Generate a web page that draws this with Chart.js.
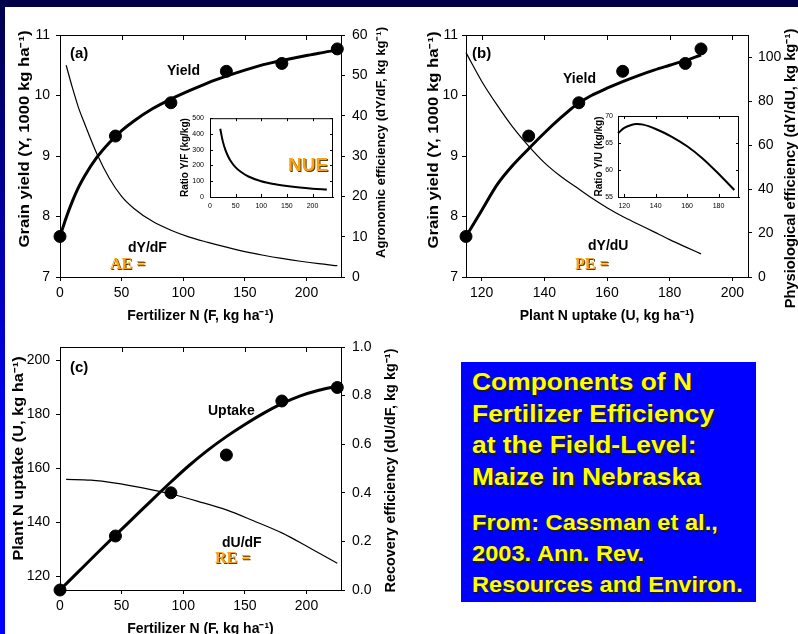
<!DOCTYPE html>
<html>
<head>
<meta charset="utf-8">
<script src="https://cdn.jsdelivr.net/npm/chart.js@4.4.1/dist/chart.umd.min.js"></script>
<style>
  html, body { margin: 0; padding: 0; }
  body { width: 798px; height: 634px; overflow: hidden; position: relative; background: #fff;
         font-family: 'Liberation Sans', Arial, sans-serif; }
  canvas { position: absolute; }
  .bar { position: absolute; left: 0; top: 0; width: 798px; height: 7px; background: #00004a; }
  .strip { position: absolute; left: 0; top: 0; width: 5px; height: 634px;
           background: linear-gradient(#00004a, #0000ff 70%); }
  .lbl { position: absolute; font-weight: bold; font-size: 14px; line-height: 1; color: #000; white-space: nowrap; }
  .orange { color: #f5a31a; text-shadow: 1px 1px 0 #5a3c00; }
  .serif { font-family: 'Liberation Serif', 'Times New Roman', serif; font-size: 16px; }
  .box { position: absolute; left: 461px; top: 362px; width: 295px; height: 240px; background: #0000ff; }
  .box div { position: absolute; left: 11px; color: #ffff00; font-weight: bold; white-space: nowrap;
             text-shadow: 2px 2px 0 #1a1a1a; transform: scaleX(1.1); transform-origin: left top; }
</style>
</head>
<body>
<div class="bar"></div>
<div class="strip"></div>

<canvas id="chartA" width="400" height="340" style="left:0;top:0"></canvas>
<canvas id="insetA" width="175" height="108" style="left:165px;top:108px"></canvas>
<canvas id="chartB" width="410" height="340" style="left:400px;top:0"></canvas>
<canvas id="insetB" width="176" height="110" style="left:570px;top:106px"></canvas>
<canvas id="chartC" width="400" height="320" style="left:0;top:330px"></canvas>

<div class="lbl" style="left:70px;top:45px;font-size:15px">(a)</div>
<div class="lbl" style="left:167px;top:63px">Yield</div>
<div class="lbl" style="left:128px;top:240px">dY/dF</div>
<div class="lbl orange serif" style="left:110px;top:256px">AE =</div>
<div class="lbl orange" style="left:288px;top:155px;font-size:19px">NUE</div>

<div class="lbl" style="left:472px;top:45px;font-size:15px">(b)</div>
<div class="lbl" style="left:563px;top:71px">Yield</div>
<div class="lbl" style="left:588px;top:238px">dY/dU</div>
<div class="lbl orange serif" style="left:575px;top:256px">PE =</div>

<div class="lbl" style="left:70px;top:359px;font-size:15px">(c)</div>
<div class="lbl" style="left:208px;top:403px">Uptake</div>
<div class="lbl" style="left:222px;top:535px">dU/dF</div>
<div class="lbl orange serif" style="left:215px;top:550px">RE =</div>

<div class="box">
  <div style="top:4px;font-size:24px;line-height:31.7px">Components of N<br>Fertilizer Efficiency<br>at the Field-Level:<br>Maize in Nebraska</div>
  <div style="top:146px;font-size:21.5px;line-height:31px">From: Cassman et al.,<br>2003. Ann. Rev.<br>Resources and Environ.</div>
</div>

<script>
const fertN = [0, 45, 90, 135, 180, 225];
const grainYield = [7.67, 9.33, 9.88, 10.40, 10.53, 10.77];
const plantUptake = [115, 135, 151, 165, 185, 190];

// (a) fitted yield response and its derivative
const yieldFitF = [0, 5, 10, 15, 20, 30, 40, 50, 60, 75, 90, 105, 120, 135, 150, 165, 180, 195, 210, 225];
const yieldFitY = [7.67, 7.98, 8.25, 8.48, 8.67, 8.98, 9.22, 9.42, 9.58, 9.78, 9.94, 10.08, 10.21, 10.32, 10.42, 10.51, 10.58, 10.64, 10.70, 10.75];
const aeF = [5, 10, 15, 20, 30, 40, 50, 60, 75, 90, 105, 120, 135, 150, 165, 180, 195, 210, 225];
const aeVal = [52.5, 47, 42, 38, 30.5, 24.5, 20, 17, 13.8, 11.6, 9.9, 8.6, 7.4, 6.3, 5.4, 4.6, 3.9, 3.3, 2.8];
// inset (a): ratio Y/F
const nueF = [20, 25, 30, 35, 40, 50, 60, 75, 100, 125, 150, 175, 200, 228];
const nueVal = [433, 353, 299, 260, 230, 188, 160, 130, 100, 82, 69.5, 60, 53, 47];

// (b) yield vs plant N uptake
const yieldFitU = [115, 120, 125, 130, 135, 140, 145, 150, 155, 160, 165, 170, 175, 180, 185, 190];
const yieldFitYU = [7.67, 8.1, 8.53, 8.85, 9.12, 9.38, 9.62, 9.84, 10.0, 10.12, 10.23, 10.33, 10.42, 10.5, 10.58, 10.67];
const peVal = [102, 89, 78, 68, 59.5, 52, 46, 41, 36, 31.5, 27.5, 24, 20.5, 17, 13.7, 10.5];
// inset (b): ratio Y/U
const yuU = [116, 120, 124, 128, 132, 140, 150, 160, 170, 180, 190];
const yuVal = [66.8, 67.8, 68.3, 68.5, 68.4, 67.6, 66.2, 64.4, 62.1, 59.3, 56.3];

// (c) uptake vs fertilizer
const uptakeFitF = [0, 15, 30, 45, 60, 75, 90, 105, 120, 135, 150, 165, 180, 195, 210, 225];
const uptakeFitU = [115, 121.8, 128.6, 135.3, 141.9, 148.5, 155, 161.2, 166.8, 171.8, 176.3, 180.4, 184, 186.9, 189, 190.5];
const reF = [5, 25, 45, 67, 90, 112, 135, 157, 180, 202, 225];
const reVal = [0.455, 0.452, 0.44, 0.42, 0.395, 0.365, 0.33, 0.285, 0.235, 0.175, 0.11];

Chart.defaults.font.family = "'Liberation Sans', Arial, sans-serif";
Chart.defaults.color = '#000';
Chart.defaults.animation = false;

const pts = (xs, ys) => xs.map((x, i) => ({ x, y: ys[i] }));

// top border with inward ticks (main panels), full inward ticks for insets
const frameTicks = {
  id: 'frameTicks',
  beforeDraw(chart, args, opts) {
    if (!opts.inset) return;
    const a = chart.chartArea;
    chart.ctx.save();
    chart.ctx.fillStyle = '#fff';
    chart.ctx.fillRect(a.left, a.top, a.right - a.left, a.bottom - a.top);
    chart.ctx.restore();
  },
  afterDraw(chart, args, opts) {
    const { ctx, chartArea: a, scales } = chart;
    const len = opts.len || 5;
    ctx.save();
    ctx.strokeStyle = '#000';
    ctx.lineWidth = 1;
    ctx.beginPath();
    ctx.moveTo(a.left, a.top + 0.5); ctx.lineTo(a.right, a.top + 0.5);
    if (opts.inset) { ctx.moveTo(a.right - 0.5, a.top); ctx.lineTo(a.right - 0.5, a.bottom); }
    scales.x.ticks.forEach(t => {
      const px = Math.round(scales.x.getPixelForValue(t.value)) + 0.5;
      ctx.moveTo(px, a.top); ctx.lineTo(px, a.top + len);
      if (opts.inset) { ctx.moveTo(px, a.bottom); ctx.lineTo(px, a.bottom - len); }
    });
    if (opts.inset) {
      scales.y.ticks.forEach(t => {
        const py = Math.round(scales.y.getPixelForValue(t.value)) + 0.5;
        ctx.moveTo(a.left, py); ctx.lineTo(a.left + len, py);
        ctx.moveTo(a.right, py); ctx.lineTo(a.right - len, py);
      });
    }
    ctx.stroke();
    // vertical axis titles, both read bottom-to-top as in the original figure
    (opts.titles || []).forEach(t => {
      ctx.save();
      ctx.translate(t.x, t.y);
      ctx.rotate(-Math.PI / 2);
      ctx.scale(t.stretch || 1, 1);
      ctx.font = `bold ${t.size}px 'Liberation Sans', Arial, sans-serif`;
      ctx.fillStyle = '#000';
      ctx.textAlign = 'center';
      ctx.textBaseline = 'middle';
      ctx.fillText(t.text, 0, 0);
      ctx.restore();
    });
    ctx.restore();
  }
};

function axis(pos, min, max, step, size, title, extra) {
  const e = extra || {};
  return {
    type: 'linear', position: pos, min, max,
    border: { display: true, color: '#000', width: 1 },
    grid: { drawOnChartArea: false, drawTicks: e.drawTicks !== false, tickLength: 4, color: '#000' },
    ticks: {
      stepSize: step, includeBounds: false, maxRotation: 0, padding: e.pad || 5,
      font: { size: e.tickSize || 14 }, color: '#000',
      callback: e.fmt || (v => v)
    },
    title: {
      display: !!title, text: title,
      font: { size: e.titleSize || 14, weight: 'bold' },
      padding: { top: e.tpad || 0, bottom: e.tpad || 0 }
    },
    afterFit: s => { if (s.isHorizontal()) s.height = size; else s.width = size; }
  };
}

const dots = (data, yAxisID) => ({
  data, yAxisID, showLine: false, pointRadius: 6, pointHoverRadius: 6,
  backgroundColor: '#000', borderColor: '#000', clip: 10, order: 0
});
const curve = (data, yAxisID, w) => ({
  data, yAxisID, showLine: true, pointRadius: 0, borderColor: '#000', borderWidth: w,
  cubicInterpolationMode: 'monotone', clip: 4, order: 1
});

function panel(id, datasets, scales, pad, titles) {
  return new Chart(document.getElementById(id), {
    type: 'scatter',
    data: { datasets },
    options: {
      responsive: false, events: [],
      layout: { padding: pad },
      plugins: { legend: { display: false }, tooltip: { enabled: false }, frameTicks: { titles } },
      scales
    },
    plugins: [frameTicks]
  });
}

function inset(id, data, scales, pad) {
  return new Chart(document.getElementById(id), {
    type: 'scatter',
    data: { datasets: [curve(data, 'y', 2)] },
    options: {
      responsive: false, events: [],
      layout: { padding: pad },
      plugins: { legend: { display: false }, tooltip: { enabled: false }, frameTicks: { inset: true, len: 3 } },
      scales
    },
    plugins: [frameTicks]
  });
}

// (a)
panel('chartA', [
  dots(pts(fertN, grainYield), 'y'),
  curve(pts(yieldFitF, yieldFitY), 'y', 3),
  curve(pts(aeF, aeVal), 'y1', 1.2)
], {
  x: axis('bottom', 0, 228, 50, 63, 'Fertilizer N (F, kg ha⁻¹)', { pad: 4, tpad: 15.6 }),
  y: axis('left', 7, 11, 1, 60, '', { pad: 6 }),
  y1: axis('right', 0, 60, 10, 59, '', { pad: 7 })
}, { top: 35, left: 0, right: 0, bottom: 0 }, [
  { text: 'Grain yield (Y, 1000 kg ha⁻¹)', x: 25, y: 139, size: 14, stretch: 1.19 },
  { text: 'Agronomic efficiency (dY/dF, kg kg⁻¹)', x: 381, y: 142.5, size: 13.5, stretch: 0.97 }
]);

inset('insetA', pts(nueF, nueVal), {
  x: axis('bottom', 0, 240, 50, 19, '', { drawTicks: false, pad: 5, tickSize: 7 }),
  y: axis('left', 0, 500, 100, 45, 'Ratio Y/F (kg/kg)', { drawTicks: false, pad: 6, tickSize: 7, titleSize: 10, tpad: 14 })
}, { top: 9, right: 7, left: 0, bottom: 0 });

// (b)
panel('chartB', [
  dots(pts(plantUptake, grainYield), 'y'),
  curve(pts(yieldFitU, yieldFitYU), 'y', 3),
  curve(pts(yieldFitU, peVal), 'y1', 1.2)
], {
  x: axis('bottom', 115, 205, 20, 63, 'Plant N uptake (U, kg ha⁻¹)', { pad: 4, tpad: 15.6 }),
  y: axis('left', 7, 11, 1, 66, '', { pad: 4 }),
  y1: axis('right', 0, 110, 20, 62, '', { pad: 6 })
}, { top: 35, left: 0, right: 0, bottom: 0 }, [
  { text: 'Grain yield (Y, 1000 kg ha⁻¹)', x: 34, y: 140, size: 14, stretch: 1.19 },
  { text: 'Physiological efficiency (dY/dU, kg kg⁻¹)', x: 391, y: 168.5, size: 14, stretch: 1.05 }
]);

inset('insetB', pts(yuU, yuVal), {
  x: axis('bottom', 116, 193, 20, 19, '', { drawTicks: false, pad: 5, tickSize: 7 }),
  y: axis('left', 55, 70, 5, 48, 'Ratio Y/U (kg/kg)', { drawTicks: false, pad: 5, tickSize: 7, titleSize: 10, tpad: 23 })
}, { top: 10, right: 7, left: 0, bottom: 0 });

// (c)
panel('chartC', [
  dots(pts(fertN, plantUptake), 'y'),
  curve(pts(uptakeFitF, uptakeFitU), 'y', 3),
  curve(pts(reF, reVal), 'y1', 1.2)
], {
  x: axis('bottom', 0, 228, 50, 60, 'Fertilizer N (F, kg ha⁻¹)', { pad: 4, tpad: 12.6 }),
  y: axis('left', 115, 205, 20, 60, '', { pad: 6 }),
  y1: axis('right', 0, 1, 0.2, 59, '', { pad: 7, fmt: v => v.toFixed(1) })
}, { top: 17, left: 0, right: 0, bottom: 0 }, [
  { text: 'Plant N uptake (U, kg ha⁻¹)', x: 19.5, y: 128.5, size: 14, stretch: 1.17 },
  { text: 'Recovery efficiency (dU/dF, kg kg⁻¹)', x: 391, y: 140.5, size: 14, stretch: 1.03 }
]);
</script>
</body>
</html>
